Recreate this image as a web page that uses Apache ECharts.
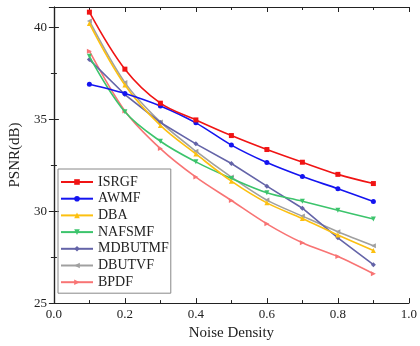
<!DOCTYPE html>
<html><head><meta charset="utf-8">
<script src="https://cdn.jsdelivr.net/npm/echarts@6/dist/echarts.min.js"></script>
<style>html,body{margin:0;padding:0;background:#fff}#c{width:420px;height:346px}</style>
</head><body><div id="c"></div>
<script>
var noise = [0.1, 0.2, 0.3, 0.4, 0.5, 0.6, 0.7, 0.8, 0.9];
var ISRGF   = [40.82, 37.72, 35.87, 34.96, 34.11, 33.35, 32.66, 32.00, 31.50];
var AWMF    = [36.90, 36.40, 35.72, 34.80, 33.59, 32.64, 31.88, 31.22, 30.53];
var DBA     = [40.20, 36.86, 34.66, 33.11, 31.63, 30.45, 29.60, 28.70, 27.86];
var NAFSMF  = [38.42, 35.40, 33.80, 32.68, 31.78, 31.00, 30.54, 30.05, 29.57];
var MDBUTMF = [38.24, 36.34, 34.82, 33.66, 32.59, 31.36, 30.16, 28.55, 27.09];
var DBUTVF  = [40.34, 36.99, 34.85, 33.26, 31.85, 30.60, 29.73, 28.88, 28.12];
var BPDF    = [38.70, 35.45, 33.40, 31.85, 30.58, 29.31, 28.28, 27.53, 26.60];
var xTicks = [0.0, 0.2, 0.4, 0.6, 0.8, 1.0];
var yTicks = [25, 30, 35, 40];

var names = ['ISRGF','AWMF','DBA','NAFSMF','MDBUTMF','DBUTVF','BPDF'];
var values = [ISRGF, AWMF, DBA, NAFSMF, MDBUTMF, DBUTVF, BPDF];
var colors = ['#f01414','#1414f0','#fcc010','#3cc46c','#6464a8','#a0a0a0','#f87474'];
var symbols = ['rect','circle','triangle','path://M0,0 L10,0 L5,9 Z','diamond',
               'path://M0,5 L9,0 L9,10 Z','path://M0,0 L9,5 L0,10 Z'];
var smooth = [0.35,0.3,0.35,0.35,false,0.3,0.3];

var font = 'Liberation Serif, Times New Roman, serif';
function pairs(v){ return noise.map(function(x,i){ return [x, v[i]]; }); }

var series = names.map(function(n,i){
  return {
    name: n, type: 'line', data: pairs(values[i]),
    smooth: smooth[i], symbol: symbols[i], symbolSize: 5,
    lineStyle: {color: colors[i], width: 1.6},
    itemStyle: {color: colors[i]},
    z: 10 - i
  };
});

var axisLine = {show: true, lineStyle: {color: '#222', width: 1.2}};
var chart = echarts.init(document.getElementById('c'), null, {renderer: 'canvas'});
chart.setOption({
  backgroundColor: '#ffffff',
  animation: false,
  grid: {left: 46, right: 7, top: 7, bottom: 42},
  legend: {
    orient: 'vertical', left: 58, top: 169,
    itemWidth: 32, itemHeight: 7, itemGap: 2.7,
    padding: [6, 2, 4, 2],
    borderColor: '#888', borderWidth: 1,
    textStyle: {fontFamily: font, fontSize: 14, color: '#222'},
    data: names
  },
  xAxis: [{
    type: 'value', min: 0, max: 1, interval: 0.2,
    name: 'Noise Density', nameLocation: 'middle', nameGap: 17,
    nameTextStyle: {fontFamily: font, fontSize: 15, color: '#222'},
    axisLine: axisLine,
    axisTick: {inside: true, length: 5, lineStyle: {color: '#222'}},
    minorTick: {show: true, splitNumber: 2, length: 3, lineStyle: {color: '#222'}},
    axisLabel: {fontFamily: font, fontSize: 13, color: '#222', margin: 5,
      formatter: function(v){ return xTicks.indexOf(Math.round(v*10)/10) >= 0 ? v.toFixed(1) : ''; }},
    splitLine: {show: false}
  }, {
    type: 'value', min: 0, max: 1, interval: 0.2, position: 'top',
    axisLine: axisLine,
    axisTick: {inside: true, length: 5, lineStyle: {color: '#222'}},
    minorTick: {show: true, splitNumber: 2, length: 3, lineStyle: {color: '#222'}},
    axisLabel: {show: false}, splitLine: {show: false}
  }],
  yAxis: [{
    type: 'value', min: 25, max: 41.1, interval: 5,
    name: 'PSNR(dB)', nameLocation: 'middle', nameGap: 23,
    nameTextStyle: {fontFamily: font, fontSize: 15, color: '#222'},
    axisLine: axisLine,
    axisTick: {inside: true, length: 5, lineStyle: {color: '#222'}},
    minorTick: {show: true, splitNumber: 2, length: 3, lineStyle: {color: '#222'}},
    axisLabel: {fontFamily: font, fontSize: 13, color: '#222', margin: 7,
      showMaxLabel: false,
      formatter: function(v){ return yTicks.indexOf(v) >= 0 ? String(v) : ''; }},
    splitLine: {show: false}
  }, {
    type: 'value', min: 25, max: 41.1, interval: 5, position: 'right',
    axisLine: axisLine,
    axisTick: {inside: true, length: 5, lineStyle: {color: '#222'}},
    minorTick: {show: true, splitNumber: 2, length: 3, lineStyle: {color: '#222'}},
    axisLabel: {show: false}, splitLine: {show: false}
  }],
  series: series
});
</script></body></html>
